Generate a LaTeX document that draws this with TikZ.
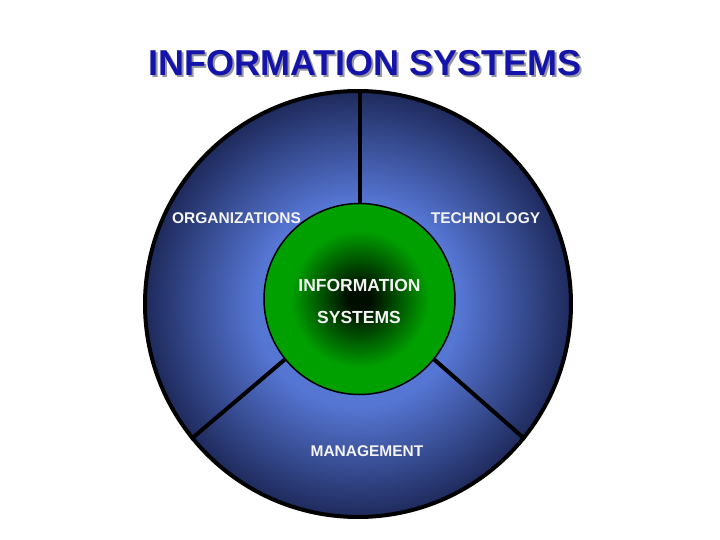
\documentclass[tikz,border=0pt]{standalone}
\usepackage{fontspec}
\setmainfont{Liberation Sans}
\usepackage{xcolor}
\usepackage{tikz}
\usetikzlibrary{positioning}

\definecolor{titleblue}{RGB}{20,20,170}
\definecolor{titleshadow}{RGB}{150,150,160}
\definecolor{discmid}{RGB}{86,118,212}
\definecolor{discedge}{RGB}{30,42,92}
\definecolor{leafgreen}{RGB}{0,160,0}
\definecolor{coredark}{RGB}{0,14,0}
\definecolor{labelwhite}{RGB}{244,244,244}

\pgfdeclareradialshading{bluedisc}{\pgfpoint{0bp}{0bp}}{color(0bp)=(discmid); color(12bp)=(discmid); color(25bp)=(discedge); color(50bp)=(discedge)}
\pgfdeclareradialshading{greencore}{\pgfpoint{0bp}{0bp}}{color(0bp)=(coredark); color(3bp)=(coredark); color(18bp)=(leafgreen); color(50bp)=(leafgreen)}

\begin{document}
\begin{tikzpicture}[x=1pt,y=-1pt,
  ring/.style={circle,draw=black,inner sep=0pt,shade},
  divider/.style={draw=black,line width=4pt},
  ringlabel/.style={text=labelwhite,anchor=base,inner sep=0pt,font=\fontsize{15.5}{19}\bfseries},
  corelabel/.style={text=labelwhite,anchor=base,inner sep=0pt,font=\fontsize{17.5}{21}\bfseries}
]
\useasboundingbox (0,0) rectangle (720,540);

% title with its shadow
\node[anchor=base,inner sep=0pt,text=titleshadow,font=\fontsize{36}{40}\bfseries] (titleshade) at (367,78) {INFORMATION SYSTEMS};
\node[anchor=base,inner sep=0pt,text=titleblue,font=\fontsize{36}{40}\bfseries] (title) at (365,76) {INFORMATION SYSTEMS};

% the disc and its core
\node[ring,line width=4pt,minimum size=426pt,shading=bluedisc] (disc) at (358,304) {};
\node[ring,line width=1.5pt,minimum size=191pt,shading=greencore] (core) at (359.5,299) {};

\draw[divider] (core.north) -- (core.north |- disc.north);
\draw[divider] (core.219) -- (disc.219);
\draw[divider] (core.-39) -- (disc.-39);

% labels
\node[ringlabel] (orglabel) at (236.5,224) {ORGANIZATIONS};
\node[ringlabel] (techlabel) at (485.5,224) {TECHNOLOGY};
\node[ringlabel] (mgmtlabel) at (367,456) {MANAGEMENT};
\node[corelabel] (infolabel) at (359.5,291) {INFORMATION};
\node[corelabel] (syslabel) at (359,323) {SYSTEMS};
\end{tikzpicture}
\end{document}
